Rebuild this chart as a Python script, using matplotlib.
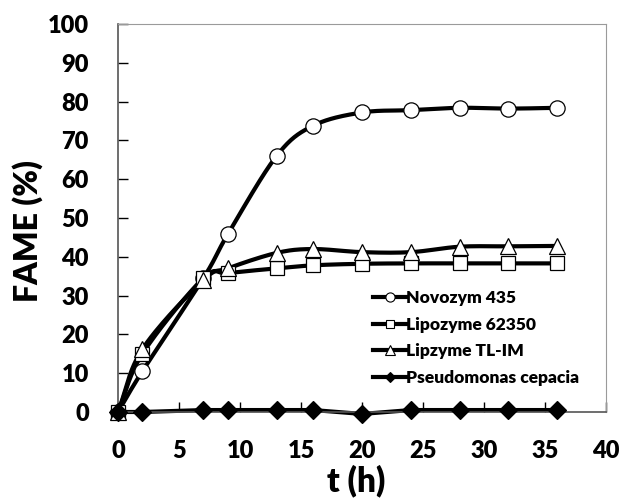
import numpy as np
import matplotlib
matplotlib.use("Agg")
import matplotlib.pyplot as plt

plt.rcParams['font.family'] = ['Lato', 'Open Sans', 'DejaVu Sans']
plt.rcParams['font.weight'] = 'heavy'

t = [0, 2, 7, 9, 13, 16, 20, 24, 28, 32, 36]
novozym = [0, 10.5, 34.5, 45.8, 66, 73.8, 77.2, 77.8, 78.4, 78.2, 78.4]
lipozyme_62350 = [0, 15, 34.5, 35.8, 37, 37.8, 38.2, 38.3, 38.3, 38.3, 38.3]
lipzyme_tlim = [0, 16.2, 34, 37, 41, 42, 41.2, 41.2, 42.6, 42.7, 42.8]
pseudomonas = [0, 0, 0.5, 0.5, 0.5, 0.5, -0.5, 0.5, 0.5, 0.5, 0.5]

labels = ["Novozym 435", "Lipozyme 62350", "Lipzyme TL-IM", "Pseudomonas cepacia"]
markers = ["o", "s", "^", "D"]
faces = ["white", "white", "white", "black"]
sizes = [11, 10, 11, 9]


def smooth(x, y, n=30):
    # Catmull-Rom spline through the points, like Excel's smoothed line
    x = np.asarray(x, float)
    y = np.asarray(y, float)
    px = np.concatenate([[2 * x[0] - x[1]], x, [2 * x[-1] - x[-2]]])
    py = np.concatenate([[2 * y[0] - y[1]], y, [2 * y[-1] - y[-2]]])
    xs, ys = [], []
    s = np.linspace(0, 1, n)
    for i in range(1, len(px) - 2):
        for arr, out in ((px, xs), (py, ys)):
            p0, p1, p2, p3 = arr[i - 1], arr[i], arr[i + 1], arr[i + 2]
            out.extend(0.5 * ((2 * p1) + (-p0 + p2) * s
                              + (2 * p0 - 5 * p1 + 4 * p2 - p3) * s ** 2
                              + (-p0 + 3 * p1 - 3 * p2 + p3) * s ** 3))
    return xs, ys


fig = plt.figure(figsize=(6.3, 4.98), dpi=100)
ax = fig.add_axes([0.1873, 0.1727, 0.7746, 0.7791])

series = [novozym, lipozyme_62350, lipzyme_tlim, pseudomonas]
for y, lab, m, fc, ms in zip(series, labels, markers, faces, sizes):
    if m == "D":
        sx, sy = t, y
    else:
        sx, sy = smooth(t, y)
    ax.plot(sx, sy, color="black", lw=3, zorder=2, clip_on=False)
    ax.plot(t, y, linestyle="none", marker=m, ms=ms, mfc=fc, mec="black",
            mew=0.9, zorder=3, clip_on=False)
    ax.plot([], [], color="black", lw=3, marker=m, ms=ms * 0.6, mfc=fc,
            mec="black", mew=0.8, label=lab)

ax.set_xlim(0, 40)
ax.set_ylim(0, 100)
ax.set_xticks(range(0, 41, 5))
ax.set_yticks(range(0, 101, 10))
ax.tick_params(direction="in", length=7, width=1, labelsize=17)
ax.tick_params(axis="y", pad=21)
ax.tick_params(axis="x", pad=20)
for lab in ax.get_xticklabels() + ax.get_yticklabels():
    lab.set_fontweight("heavy")

for side in ("top", "right"):
    ax.spines[side].set_color("#9a9a9a")
    ax.spines[side].set_linewidth(0.8)
for side in ("left", "bottom"):
    ax.spines[side].set_color("#555555")
    ax.spines[side].set_linewidth(1.2)

fig.text(356 / 630, 1 - 481 / 498, "t (h)", fontsize=24, fontweight="heavy",
         ha="center", va="center")
fig.text(28 / 630, 1 - 231 / 498, "FAME (%)", fontsize=23, fontweight="heavy",
         ha="center", va="center", rotation=90)

leg = ax.legend(loc="upper left", bbox_to_anchor=(0.505, 0.337), frameon=False,
                prop={"size": 12.5, "weight": "heavy"}, handlelength=1.9,
                handletextpad=0.0, labelspacing=0.62, borderpad=0)

fig.savefig("out.png", dpi=100)
